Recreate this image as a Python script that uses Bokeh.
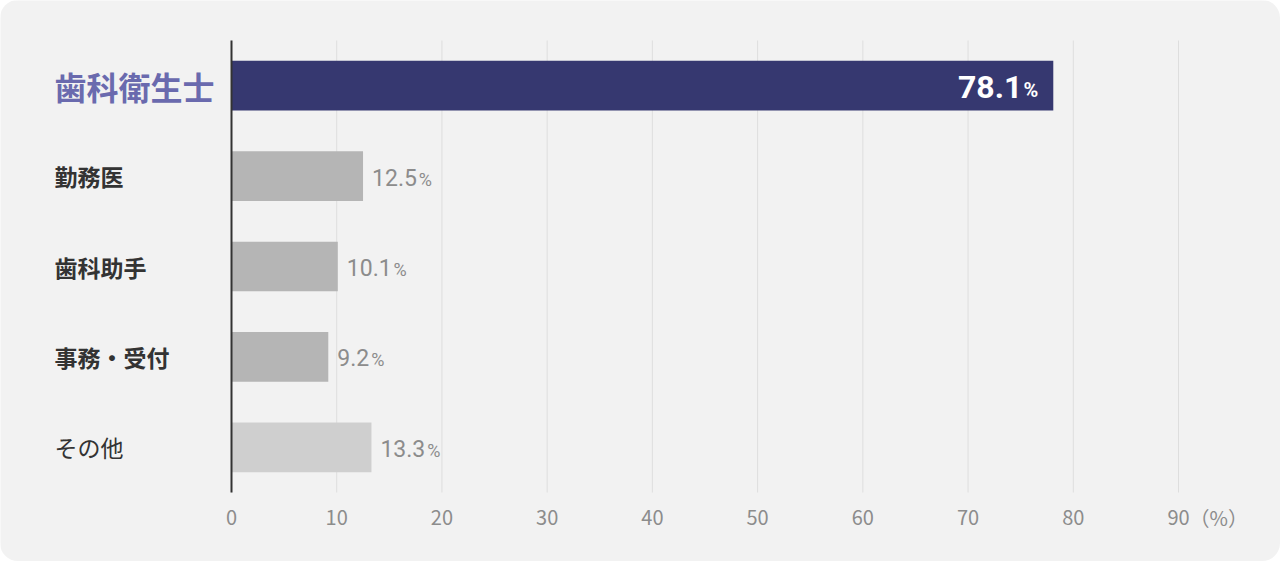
from bokeh.plotting import figure
from bokeh.models import ColumnDataSource, Range1d
from bokeh.core.properties import value
from bokeh.embed import file_html
from bokeh.resources import INLINE

# ---- data ----
categories = ["歯科衛生士", "勤務医", "歯科助手", "事務・受付", "その他"]
percentages = [78.1, 12.5, 10.1, 9.2, 13.3]
tick_values = [0, 10, 20, 30, 40, 50, 60, 70, 80, 90]
tick_labels = [str(t) for t in tick_values]
unit_label = "（%）"

# ---- styles ----
bar_colors = ["#363870", "#b5b5b5", "#b5b5b5", "#b5b5b5", "#cfcfcf"]
PANEL = "#f2f2f2"
GRID = "#dedede"
GREY_TXT = "#8c8c8c"
DARK_TXT = "#333333"
HILITE_TXT = "#6a6aae"
NUM_FONT = "Roboto"
CJK_FONT = "Noto Sans CJK JP"

# ---- layout (pixels) ----
W, H = 1280, 561
zero_px, ninety_px = 231, 1178          # where 0 and 90 sit horizontally
plot_top_px, plot_bottom_px = 40, 492   # vertical extent of the category band
ppu = (ninety_px - zero_px) / (tick_values[-1] - tick_values[0])
x_start = -zero_px / ppu
x_end = x_start + W / ppu

n = len(categories)
row_px = (plot_bottom_px - plot_top_px) / n
ypos = [n - 1 - i for i in range(n)]     # first category on top
band_lo, band_hi = -0.5, n - 0.5
y_start = band_lo - (H - plot_bottom_px) / row_px
y_end = band_hi + plot_top_px / row_px

p = figure(width=W, height=H, output_backend="svg", toolbar_location=None,
           x_range=Range1d(x_start, x_end), y_range=Range1d(y_start, y_end),
           x_axis_location=None, y_axis_location=None,
           min_border=0, min_border_left=0, min_border_right=0,
           min_border_top=0, min_border_bottom=0)
p.background_fill_color = PANEL
p.border_fill_color = PANEL
p.outline_line_color = None
p.grid.visible = False
p.styles = {"border-radius": "18px", "overflow": "hidden"}

# vertical grid lines
p.segment(x0=tick_values, x1=tick_values, y0=band_lo, y1=band_hi,
          line_color=GRID, line_width=1)

# bars
src = ColumnDataSource(dict(y=ypos, cat=categories, pct=percentages, color=bar_colors))
p.hbar(y="y", left=0, right="pct", height=0.55, fill_color="color",
       line_color=None, source=src)

# value axis baseline at 0
p.segment(x0=[tick_values[0]], x1=[tick_values[0]], y0=band_lo, y1=band_hi,
          line_color=DARK_TXT, line_width=2)

# tick labels + unit
p.text(x=tick_values, y=band_lo, text=tick_labels, y_offset=25,
       text_align="center", text_baseline="middle", text_color=GREY_TXT,
       text_font=value(CJK_FONT), text_font_size="20px")
p.text(x=tick_values[-1:], y=band_lo, text=[unit_label], x_offset=11, y_offset=25,
       text_align="left", text_baseline="middle", text_color=GREY_TXT,
       text_font=value(CJK_FONT), text_font_size="20px")

# category labels
label_off = -(zero_px - 54)
p.text(x=0, y=ypos[:1], text=categories[:1], x_offset=label_off,
       text_align="left", text_baseline="middle", text_color=HILITE_TXT,
       text_font=value(CJK_FONT), text_font_style="bold", text_font_size="32px")
p.text(x=0, y=ypos[1:4], text=categories[1:4], x_offset=label_off,
       text_align="left", text_baseline="middle", text_color=DARK_TXT,
       text_font=value(CJK_FONT), text_font_style="bold", text_font_size="23px")
p.text(x=0, y=ypos[4:], text=categories[4:], x_offset=label_off,
       text_align="left", text_baseline="middle", text_color=DARK_TXT,
       text_font=value(CJK_FONT), text_font_style="normal", text_font_size="23px")

# value labels
nums = [f"{v:.1f}" for v in percentages]
p.text(x=percentages[:1], y=ypos[:1], text=nums[:1], x_offset=-31, y_offset=1,
       text_align="right", text_baseline="middle", text_color="white",
       text_font=value(NUM_FONT), text_font_style="bold", text_font_size="32px")
p.text(x=percentages[:1], y=ypos[:1], text=["%"], x_offset=-15, y_offset=4,
       text_align="right", text_baseline="middle", text_color="white",
       text_font=value(NUM_FONT), text_font_style="bold", text_font_size="20px")

def est_w(s, fs):
    return sum(0.5615 * fs if ch.isdigit() else 0.263 * fs for ch in s)

num_fs = 23
rest_src = ColumnDataSource(dict(
    x=percentages[1:], y=ypos[1:], t=nums[1:],
    pc_off=[9 + est_w(s, num_fs) + 2 for s in nums[1:]]))
p.text(x="x", y="y", text="t", source=rest_src, x_offset=9, y_offset=1,
       text_align="left", text_baseline="middle", text_color=GREY_TXT,
       text_font=value(NUM_FONT), text_font_size=f"{num_fs}px")
p.text(x="x", y="y", text=value("%"), source=rest_src, x_offset="pc_off", y_offset=3,
       text_align="left", text_baseline="middle", text_color=GREY_TXT,
       text_font=value(NUM_FONT), text_font_size="18px")

open("out.html", "w").write(file_html(p, INLINE))
